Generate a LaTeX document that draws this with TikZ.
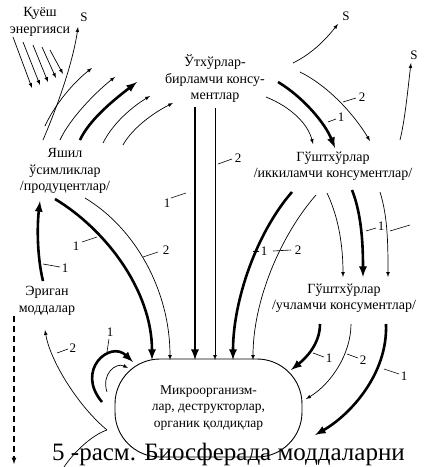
\documentclass[tikz,border=0pt]{standalone}
\usepackage{fontspec}
\setmainfont{Liberation Serif}
\usetikzlibrary{arrows,positioning}

\begin{document}
\begin{tikzpicture}[
x=1pt, y=-1pt,
labelnode/.style={align=center, inner sep=0pt, font=\fontsize{14}{16.5}\selectfont},
numnode/.style={inner sep=0pt, font=\fontsize{13}{13}\selectfont},
boxnode/.style={draw, line width=0.9pt, rounded corners=45pt, minimum width=187pt, minimum height=98pt, align=center, font=\fontsize{13.5}{16.5}\selectfont},
thinarrow/.style={line width=0.7pt, arrows={-latex}},
thickarrow/.style={line width=2.6pt, arrows={-latex}},
tickline/.style={line width=0.6pt}]
\useasboundingbox (0,0) rectangle (426,467);
% Nodes
\node[labelnode] (sun) at (40,22) {Қуёш\\энергияси};
\node[labelnode] (herb) at (215,79) {Ўтхўрлар-\\бирламчи консу-\\ментлар};
\node[labelnode] (plants) at (65,171) {Яшил\\ўсимликлар\\/продуцентлар/};
\node[labelnode] (carn1) at (333,166) {Гўштхўрлар\\/иккиламчи консументлар/};
\node[labelnode] (carn2) at (344,298) {Гўштхўрлар\\/учламчи консументлар/};
\node[labelnode] (solutes) at (47,301) {Эриган\\моддалар};
\node[boxnode] (micro) at (208.5,408) {Микроорганизм-\\лар, деструкторлар,\\органик қолдиқлар};
\node[numnode] (s1) at (84,17) {S};
\node[numnode] (s2) at (346,16) {S};
\node[numnode] (s3) at (414,55) {S};
% Coordinates
\coordinate (ray1a) at (13,37);  \coordinate (ray1b) at (32,88);
\coordinate (ray2a) at (23,42);  \coordinate (ray2b) at (40,85);
\coordinate (ray3a) at (33,45);  \coordinate (ray3b) at (48,82);
\coordinate (ray4a) at (42,47);  \coordinate (ray4b) at (56,78);
\coordinate (ray5a) at (50,50);  \coordinate (ray5b) at (63,74);
\coordinate (ps1a) at (43,140);  \coordinate (ps1b) at (78,27);
\coordinate (pu1a) at (45,126);  \coordinate (pu1b) at (92,68);
\coordinate (pu2a) at (60,140);  \coordinate (pu2b) at (115,77);
\coordinate (pu3a) at (80,140);  \coordinate (pu3b) at (137,82);
\coordinate (pu4a) at (103,143); \coordinate (pu4b) at (150,96);
\coordinate (pu5a) at (123,145); \coordinate (pu5b) at (173,103);
\coordinate (hs2a) at (293,63);  \coordinate (hs2b) at (338,24);
\coordinate (hc1a) at (278,82);  \coordinate (hc1b) at (335,148);
\coordinate (hc2a) at (266,97);  \coordinate (hc2b) at (313,144);
\coordinate (hc3a) at (300,72);  \coordinate (hc3b) at (370,141);
\coordinate (cs3a) at (400,140); \coordinate (cs3b) at (411,63);
\coordinate (hm1a) at (195,107); \coordinate (hm1b) at (195,360);
\coordinate (hm2a) at (215,108); \coordinate (hm2b) at (215,360);
\coordinate (pm1a) at (55,199);  \coordinate (pm1b) at (152,360);
\coordinate (pm2a) at (85,198);  \coordinate (pm2b) at (170,360);
\coordinate (cm1a) at (292,192); \coordinate (cm1b) at (233,360);
\coordinate (cm2a) at (316,195); \coordinate (cm2b) at (253,360);
\coordinate (cc1a) at (327,193); \coordinate (cc1b) at (343,277);
\coordinate (cc2a) at (352,190); \coordinate (cc2b) at (363,277);
\coordinate (cc3a) at (380,192); \coordinate (cc3b) at (388,277);
\coordinate (cb1a) at (320,324); \coordinate (cb1b) at (291,370);
\coordinate (cb2a) at (351,324); \coordinate (cb2b) at (306,399);
\coordinate (cb3a) at (386,324); \coordinate (cb3b) at (315,435);
\coordinate (sp1a) at (43,281);  \coordinate (sp1b) at (40,201);
\coordinate (mjoin) at (107,430);
\coordinate (ms2b) at (45,330);
\coordinate (mdown) at (64,467);
\coordinate (lp1a) at (102,402); \coordinate (lp1b) at (133,362);
\coordinate (lp2a) at (107,392); \coordinate (lp2b) at (128,368);
\coordinate (dasha) at (14,316); \coordinate (dashb) at (14,464);
% Lines
\draw[thinarrow] (ray1a) -- (ray1b);
\draw[thinarrow] (ray2a) -- (ray2b);
\draw[thinarrow] (ray3a) -- (ray3b);
\draw[thinarrow] (ray4a) -- (ray4b);
\draw[thinarrow] (ray5a) -- (ray5b);
\draw[thinarrow] (ps1a) .. controls +(15,-35) and +(-5,35) .. (ps1b);
\draw[thinarrow] (pu1a) .. controls +(10,-22) and +(-18,14) .. (pu1b);
\draw[thinarrow] (pu2a) .. controls +(10,-22) and +(-18,14) .. (pu2b);
\draw[thickarrow] (pu3a) .. controls +(10,-22) and +(-18,14) .. (pu3b);
\draw[thinarrow] (pu4a) .. controls +(10,-20) and +(-18,11) .. (pu4b);
\draw[thinarrow] (pu5a) .. controls +(10,-18) and +(-18,9) .. (pu5b);
\draw[thinarrow] (hs2a) .. controls +(20,-10) and +(-12,15) .. (hs2b);
\draw[thickarrow] (hc1a) .. controls +(25,15) and +(-10,-25) .. (hc1b);
\draw[thinarrow] (hc2a) .. controls +(25,10) and +(-5,-20) .. (hc2b);
\draw[thinarrow] (hc3a) .. controls +(30,15) and +(-15,-25) .. (hc3b);
\draw[thinarrow] (cs3a) .. controls +(5,-20) and +(-3,25) .. (cs3b);
\draw[thickarrow] (hm1a) -- (hm1b);
\draw[thinarrow] (hm2a) -- (hm2b);
\draw[thickarrow] (pm1a) .. controls +(50,30) and +(0,-70) .. (pm1b);
\draw[thinarrow] (pm2a) .. controls +(50,30) and +(0,-70) .. (pm2b);
\draw[thickarrow] (cm1a) .. controls +(-35,40) and +(0,-60) .. (cm1b);
\draw[thinarrow] (cm2a) .. controls +(-35,40) and +(0,-60) .. (cm2b);
\draw[thinarrow] (cc1a) .. controls +(12,25) and +(0,-30) .. (cc1b);
\draw[thickarrow] (cc2a) .. controls +(10,25) and +(0,-30) .. (cc2b);
\draw[thinarrow] (cc3a) .. controls +(8,25) and +(0,-30) .. (cc3b);
\draw[thickarrow] (cb1a) .. controls +(0,20) and +(15,-12) .. (cb1b);
\draw[thinarrow] (cb2a) .. controls +(0,30) and +(25,-15) .. (cb2b);
\draw[thickarrow] (cb3a) .. controls +(2,50) and +(35,-20) .. (cb3b);
\draw[thickarrow] (sp1a) .. controls +(-6,-25) and +(-3,25) .. (sp1b);
\draw[thinarrow] (mjoin) .. controls +(-30,-25) and +(5,30) .. (ms2b);
\draw[line width=0.7pt] (mjoin) .. controls +(-15,5) and +(10,-15) .. (mdown);
\draw[thickarrow] (lp1a) .. controls +(-27,-32) and +(-23,-22) .. (lp1b);
\draw[thinarrow] (lp2a) .. controls +(-6,-18) and +(-12,-6) .. (lp2b);
\draw[line width=1.2pt, dash pattern=on 6pt off 4pt, arrows={-latex}] (dasha) -- (dashb);
% Labels
\node[numnode] (lhm1) at (167,203) {1};
\node[numnode] (lhm2) at (238,158) {2};
\node[numnode] (lpm1) at (76,246) {1};
\node[numnode] (lpm2) at (166,250) {2};
\node[numnode] (lcm1) at (264,251) {1};
\node[numnode] (lcm2) at (298,250) {2};
\node[numnode] (lhc1) at (341,117) {1};
\node[numnode] (lhc2) at (362,97) {2};
\node[numnode] (lcc1) at (381,226) {1};
\node[numnode] (lcb1) at (329,358) {1};
\node[numnode] (lcb2) at (363,360) {2};
\node[numnode] (lcb3) at (404,376) {1};
\node[numnode] (lsp1) at (65,268) {1};
\node[numnode] (lms2) at (73,348) {2};
\node[numnode] (llp1) at (110,332) {1};
\draw[tickline] ([shift={(4,-5)}]lhm1.center) -- +(15,-5);
\draw[tickline] ([shift={(-20,6)}]lhm2.center) -- +(14,-5);
\draw[tickline] ([shift={(6,-4)}]lpm1.center) -- +(15,-5);
\draw[tickline] ([shift={(-23,7)}]lpm2.center) -- +(15,-5);
\draw[tickline] ([shift={(-11,0)}]lcm1.center) -- +(6,0);
\draw[tickline] ([shift={(-25,1)}]lcm2.center) -- +(18,-1);
\draw[tickline] ([shift={(-13,5)}]lhc1.center) -- +(8,-3);
\draw[tickline] ([shift={(-19,5)}]lhc2.center) -- +(13,-4);
\draw[tickline] ([shift={(-15,5)}]lcc1.center) -- +(10,-3);
\draw[tickline] ([shift={(9,5)}]lcc1.center) -- +(20,-6);
\draw[tickline] ([shift={(-16,-5)}]lcb1.center) -- +(11,4);
\draw[tickline] ([shift={(-16,-6)}]lcb2.center) -- +(11,4);
\draw[tickline] ([shift={(-20,-7)}]lcb3.center) -- +(15,5);
\draw[tickline] ([shift={(-22,-4)}]lsp1.center) -- +(17,3);
\draw[tickline] ([shift={(-16,5)}]lms2.center) -- +(11,-4);
\draw[tickline] ([shift={(-1,7)}]llp1.center) -- +(-2,13);
% Caption
\node[anchor=base west, inner sep=0pt, font=\fontsize{25}{30}\selectfont] (caption) at (52,460) {5 -расм. Биосферада моддаларни};
\end{tikzpicture}
\end{document}
